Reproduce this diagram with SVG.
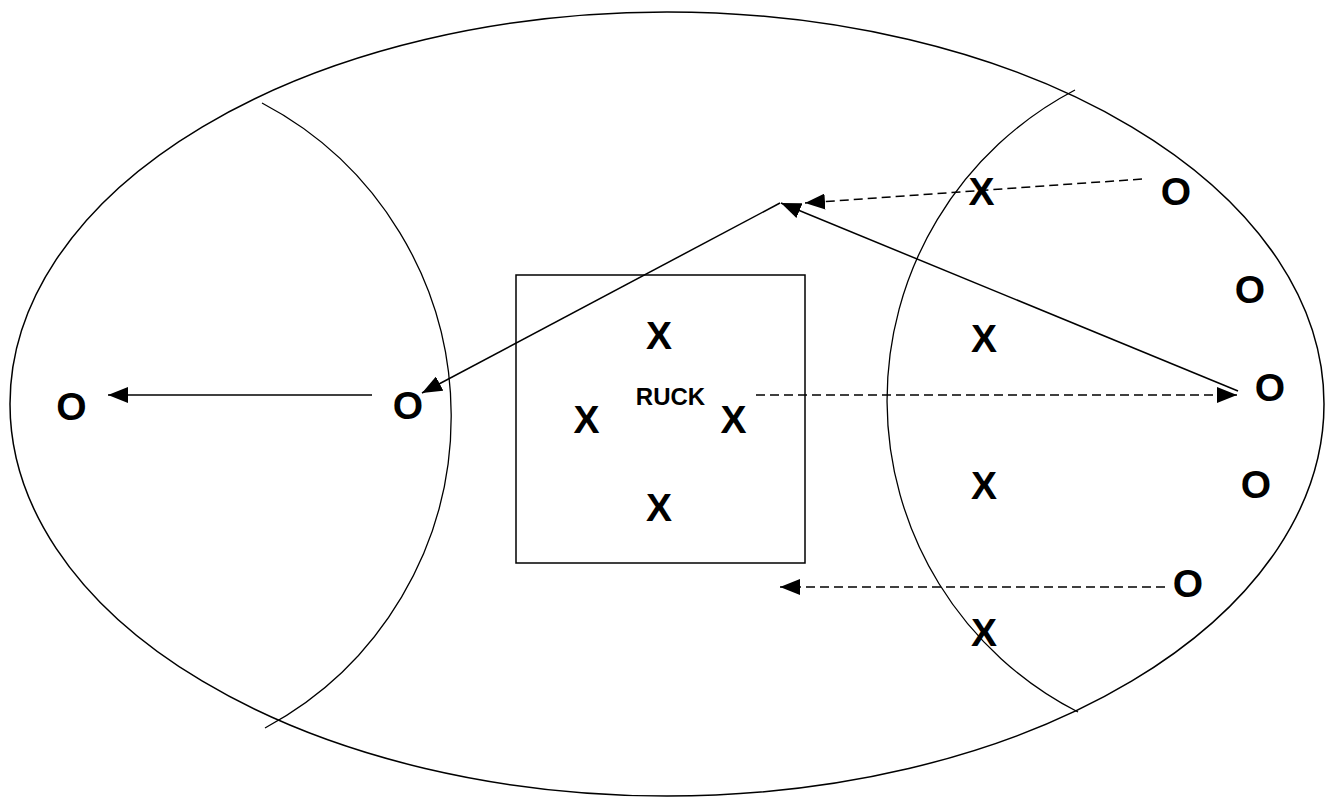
<svg xmlns="http://www.w3.org/2000/svg" width="1325" height="800" viewBox="0 0 1325 800">
<style>
.o{fill:none;stroke:#000;stroke-width:1.5}
.a{fill:none;stroke:#000;stroke-width:1.3}
.s{stroke:#000;stroke-width:1.5;fill:none}
.d{stroke:#000;stroke-width:1.5;fill:none;stroke-dasharray:9 5}
.t{font-family:"Liberation Sans",Arial,sans-serif;font-weight:bold;font-size:39px;text-anchor:middle;fill:#000}
.r{font-family:"Liberation Sans",Arial,sans-serif;font-weight:bold;font-size:24px;text-anchor:middle;fill:#000}
</style>
<defs>
<marker id="ah" markerUnits="userSpaceOnUse" markerWidth="20" markerHeight="16" refX="20" refY="8" orient="auto">
<path d="M0,0 L20,8 L0,16 z" fill="#000"/>
</marker>
</defs>
<rect width="1325" height="800" fill="#fff"/>
<g id="field">
<ellipse class="o" cx="667" cy="404" rx="657" ry="392"/>
<path class="a" d="M262,103 A354,354 0 0 1 265,728"/>
<path class="a" d="M1075,90 A350,350 0 0 0 1078,712"/>
</g>
<g id="ruck">
<rect class="o" x="516" y="275" width="289" height="288"/>
<text class="r" x="670.5" y="405">RUCK</text>
</g>
<g id="connectors">
<line class="s" x1="372" y1="395" x2="108" y2="395" marker-end="url(#ah)"/>
<line class="s" x1="780" y1="203" x2="422" y2="393" marker-end="url(#ah)"/>
<line class="s" x1="1238" y1="391" x2="781" y2="203" marker-end="url(#ah)"/>
<line class="d" x1="1142" y1="179" x2="805" y2="203" marker-end="url(#ah)"/>
<line class="d" x1="756" y1="395" x2="1237" y2="395" marker-end="url(#ah)"/>
<line class="d" x1="1165" y1="587" x2="780" y2="587" marker-end="url(#ah)"/>
</g>
<g id="o1"><text class="t" x="71.5" y="420">O</text></g>
<g id="o2"><text class="t" x="408" y="419">O</text></g>
<g id="x1"><text class="t" x="586.5" y="433">X</text></g>
<g id="x2"><text class="t" x="733.5" y="433">X</text></g>
<g id="x3"><text class="t" x="659" y="349">X</text></g>
<g id="x4"><text class="t" x="659" y="521">X</text></g>
<g id="x5"><text class="t" x="981.5" y="205">X</text></g>
<g id="x6"><text class="t" x="984" y="352">X</text></g>
<g id="x7"><text class="t" x="984" y="499">X</text></g>
<g id="x8"><text class="t" x="984" y="646">X</text></g>
<g id="o3"><text class="t" x="1176" y="205">O</text></g>
<g id="o4"><text class="t" x="1250" y="303">O</text></g>
<g id="o5"><text class="t" x="1270" y="401">O</text></g>
<g id="o6"><text class="t" x="1256" y="498">O</text></g>
<g id="o7"><text class="t" x="1188" y="597">O</text></g>
</svg>
